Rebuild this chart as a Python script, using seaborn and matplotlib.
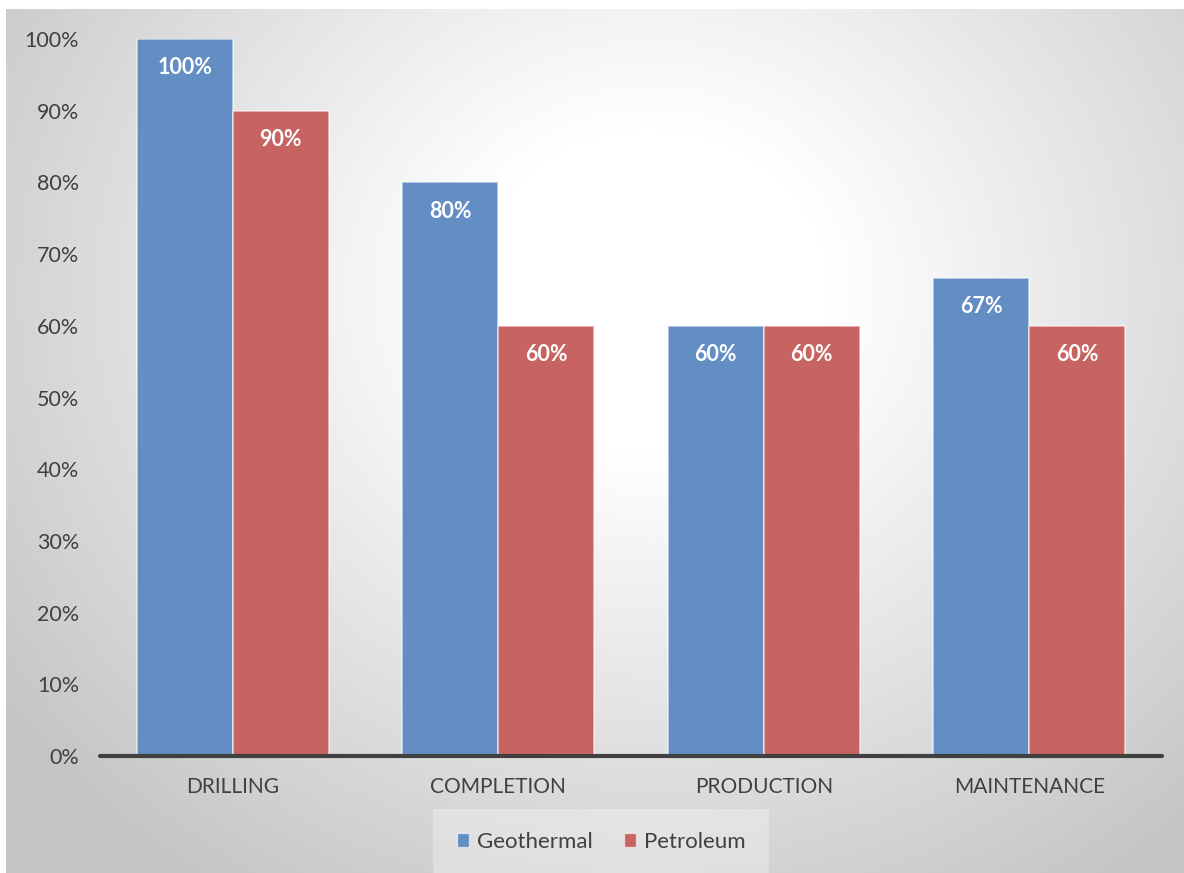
import numpy as np
import pandas as pd
import matplotlib
matplotlib.use("Agg")
import matplotlib.pyplot as plt
import seaborn as sns
from matplotlib.patches import Patch

# Share of activities by stage
stages = ["DRILLING", "COMPLETION", "PRODUCTION", "MAINTENANCE"]
geothermal = [1.00, 0.80, 0.60, 0.667]
petroleum = [0.90, 0.60, 0.60, 0.60]
series = ["Geothermal", "Petroleum"]
yticks = [0.0, 0.1, 0.2, 0.3, 0.4, 0.5, 0.6, 0.7, 0.8, 0.9, 1.0]

colors = {"Geothermal": "#638EC4", "Petroleum": "#C76461"}
text_color = "#404040"

df = pd.DataFrame({
    "stage": stages * 2,
    "value": geothermal + petroleum,
    "series": [series[0]] * len(stages) + [series[1]] * len(stages),
})

sns.set_theme(style="white")
plt.rcParams["font.family"] = ["Lato", "DejaVu Sans"]

W, H = 1184, 873
fig = plt.figure(figsize=(W / 100, H / 100), dpi=100)
fig.patch.set_facecolor("white")

# radial grey-to-white backdrop
bg = fig.add_axes([6 / W, 0, 1 - 6 / W, (H - 9) / H], zorder=-5)
gx, gy = np.meshgrid(np.linspace(6, W, 600), np.linspace(9, H, 450))
cx, cy = 650, 290
d = np.sqrt(((gx - cx) / 1.0) ** 2 + ((gy - cy) / 0.9) ** 2)
t = np.clip((d - 180) / 620, 0, 1)
shade = 255 - 58 * t
img = np.dstack([shade, shade, shade]) / 255.0
bg.imshow(img, aspect="auto", extent=[0, 1, 0, 1], origin="upper")
bg.set_axis_off()
for s in bg.spines.values():
    s.set_visible(False)

ax = fig.add_axes([100 / W, (H - 756) / H, 1062 / W, 717 / H])
ax.set_facecolor("none")

sns.barplot(data=df, x="stage", y="value", hue="series", hue_order=series,
            order=stages, palette=colors, width=0.723, saturation=1,
            edgecolor=(1, 1, 1, 0.6), linewidth=1.2, ax=ax, legend=False)

ax.set_xlim(-0.5, len(stages) - 0.5)
ax.set_ylim(0, 1.0)
ax.set_yticks(yticks)
ax.set_yticklabels([f"{v:.0%}" for v in yticks])
ax.set_xlabel("")
ax.set_ylabel("")
ax.tick_params(axis="y", length=0, pad=15, labelsize=15.5, labelcolor=text_color)
ax.tick_params(axis="x", length=0, pad=15, labelsize=15, labelcolor=text_color)

for name, s in ax.spines.items():
    s.set_visible(False)
ax.axhline(0, color="#404040", lw=3, zorder=5, clip_on=False)

# value labels inside the top of each bar
for cont in ax.containers:
    for bar in cont:
        h = bar.get_height()
        ax.annotate(f"{h:.0%}", xy=(bar.get_x() + bar.get_width() / 2, h),
                    xytext=(0, -29), textcoords="offset pixels",
                    ha="center", va="center", color="white",
                    fontsize=15.5, fontweight="bold")

handles = [Patch(facecolor=colors[s], edgecolor=(1, 1, 1, 0.6), label=s) for s in series]
leg = fig.legend(handles=handles, loc="center", bbox_to_anchor=(601 / W, (H - 842) / H),
                 ncol=2, frameon=True, fontsize=16, handlelength=0.55, handleheight=0.55,
                 handletextpad=0.35, columnspacing=1.4, borderpad=0.75)
frame = leg.get_frame()
frame.set_alpha(None)
frame.set_facecolor((1, 1, 1, 0.3))
frame.set_edgecolor("none")
frame.set_boxstyle("square")
for txt in leg.get_texts():
    txt.set_color(text_color)

fig.savefig("out.png", dpi=100, facecolor=fig.get_facecolor())
